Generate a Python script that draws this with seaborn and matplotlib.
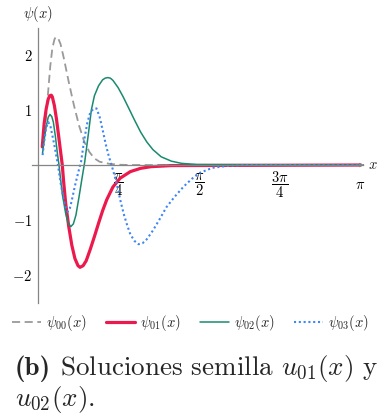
import numpy as np
import pandas as pd
import matplotlib
matplotlib.use("Agg")
import matplotlib.pyplot as plt
import seaborn as sns

# ---------------- data ----------------
PI = np.pi
psi00_x = [0.045, 0.06, 0.08, 0.10, 0.12, 0.14, 0.16, 0.17, 0.18, 0.19, 0.20, 0.22, 0.25, 0.30,
           0.35, 0.40, 0.45, 0.50, 0.55, 0.60, 0.70, 0.80, 0.90, 1.00, PI]
psi00_y = [0.35, 0.55, 0.90, 1.35, 1.80, 2.12, 2.28, 2.32, 2.33, 2.32, 2.29, 2.20, 1.96, 1.51,
           1.09, 0.72, 0.43, 0.24, 0.12, 0.06, 0.02, 0.005, 0.0, 0.0, 0.0]

psi01_x = [0.042, 0.06, 0.08, 0.10, 0.115, 0.13, 0.14, 0.16, 0.18, 0.20, 0.22, 0.237, 0.25,
           0.27, 0.30, 0.33, 0.36, 0.39, 0.41, 0.44, 0.47, 0.51, 0.55, 0.59, 0.63,
           0.67, 0.73, 0.80, 0.90, 1.00, 1.10, 1.30, PI]
psi01_y = [0.33, 0.75, 1.02, 1.20, 1.26, 1.27, 1.24, 1.08, 0.84, 0.55, 0.25, 0.0, -0.30,
           -0.70, -1.12, -1.46, -1.70, -1.83, -1.86, -1.83, -1.74, -1.53, -1.30, -1.06, -0.83,
           -0.63, -0.40, -0.24, -0.12, -0.06, -0.03, -0.01, 0.0]

psi02_x = [0.045, 0.06, 0.08, 0.10, 0.117, 0.135, 0.15, 0.17, 0.19, 0.205, 0.22, 0.24,
           0.27, 0.295, 0.32, 0.345, 0.37, 0.40, 0.43, 0.455, 0.49, 0.52, 0.55, 0.59,
           0.63, 0.655, 0.68, 0.705, 0.73, 0.78, 0.83, 0.88, 0.94, 1.00, 1.06, 1.12, 1.20, 1.30,
           1.40, 1.55, PI]
psi02_y = [0.22, 0.45, 0.70, 0.87, 0.92, 0.88, 0.78, 0.52, 0.20, 0.0, -0.25, -0.56,
           -0.88, -1.06, -1.12, -1.07, -0.91, -0.58, -0.23, 0.05, 0.55, 1.00, 1.26, 1.44,
           1.55, 1.58, 1.59, 1.58, 1.54, 1.41, 1.24, 1.05, 0.82, 0.60, 0.42, 0.28, 0.15, 0.07,
           0.03, 0.01, 0.0]

psi03_x = [0.045, 0.06, 0.08, 0.10, 0.12, 0.14, 0.16, 0.18, 0.195, 0.22, 0.25, 0.27,
           0.29, 0.31, 0.33, 0.36, 0.39, 0.42, 0.45, 0.48, 0.51, 0.54, 0.57, 0.60,
           0.63, 0.66, 0.69, 0.72, 0.75, 0.78, 0.81, 0.84, 0.87, 0.90, 0.94, 0.98,
           1.02, 1.06, 1.12, 1.19, 1.25, 1.33, 1.42, 1.50, 1.58, 1.70, 1.85, 2.00, PI]
psi03_y = [0.18, 0.42, 0.68, 0.78, 0.72, 0.54, 0.36, 0.15, 0.0, -0.32, -0.62, -0.77,
           -0.85, -0.79, -0.64, -0.38, -0.15, 0.06, 0.45, 0.76, 0.96, 1.02, 1.03, 0.88,
           0.64, 0.38, 0.16, -0.02, -0.22, -0.45, -0.70, -0.92, -1.10, -1.26, -1.38, -1.44,
           -1.42, -1.35, -1.19, -0.97, -0.77, -0.58, -0.39, -0.25, -0.14, -0.05, -0.015, 0.0, 0.0]

labels = [r"$\psi_{00}(x)$", r"$\psi_{01}(x)$", r"$\psi_{02}(x)$", r"$\psi_{03}(x)$"]
xtick_vals = [PI / 4, PI / 2, 3 * PI / 4, PI]
xtick_labels = [r"$\dfrac{\pi}{4}$", r"$\dfrac{\pi}{2}$", r"$\dfrac{3\pi}{4}$", r"$\pi$"]
ytick_vals = [-2, -1, 1, 2]
ytick_labels = [r"$-2$", r"$-1$", r"$1$", r"$2$"]
caption_tag = "(b)"
caption_line1 = r"Soluciones semilla $u_{01}(x)$ y"
caption_line2 = r"$u_{02}(x)$."

# ---------------- style ----------------
sns.set_style("white")
plt.rcParams["font.family"] = ["cmr10", "DejaVu Serif"]
plt.rcParams["mathtext.fontset"] = "cm"
plt.rcParams["axes.formatter.use_mathtext"] = True

colors = ["#9a9a9a", "#ec1a4c", "#1a8a6e", "#3f86f2"]
widths = [1.3, 2.3, 1.1, 1.5]
styles = [(0, (4.5, 2.5)), "-", "-", (0, (1, 1.3))]

fig = plt.figure(figsize=(3.85, 4.16), dpi=100)
ax = fig.add_axes([0.0826, 0.2728, 0.859, 0.661])

series = [(psi00_x, psi00_y), (psi01_x, psi01_y), (psi02_x, psi02_y), (psi03_x, psi03_y)]
for (xs, ys), lab, c, lw, ls in zip(series, labels, colors, widths, styles):
    df = pd.DataFrame({"x": xs, "y": ys})
    sns.lineplot(data=df, x="x", y="y", ax=ax, color=c, lw=lw, linestyle=ls,
                 label=lab, sort=False, estimator=None)

handles, labs = ax.get_legend_handles_labels()
if ax.get_legend() is not None:
    ax.get_legend().remove()

ax.set_xlim(-0.06, PI + 0.02)
ax.set_ylim(-2.5, 2.5)
ax.set_xlabel("")
ax.set_ylabel("")

axis_col = "#858585"
for s in ["top", "right"]:
    ax.spines[s].set_visible(False)
for s in ["left", "bottom"]:
    ax.spines[s].set_position(("data", 0))
    ax.spines[s].set_color(axis_col)
    ax.spines[s].set_linewidth(0.9)

ax.set_xticks(xtick_vals)
ax.set_xticklabels(xtick_labels, fontsize=10.5)
ax.set_yticks(ytick_vals)
ax.set_yticklabels(ytick_labels, fontsize=10.5)
for lbl in ax.get_xticklabels():
    lbl.set_va("center")
ax.tick_params(axis="x", direction="inout", length=4, width=0.7, color=axis_col,
               labelcolor="black", pad=12.5)
ax.tick_params(axis="y", direction="inout", length=4, width=0.7, color=axis_col,
               labelcolor="black", pad=2)

ax.annotate("", xy=(PI + 0.035, 0), xytext=(PI, 0),
            arrowprops=dict(arrowstyle="-|>", color=axis_col, lw=0.8, mutation_scale=6),
            annotation_clip=False)
ax.text(3.265, 0, r"$x$", ha="center", va="center", fontsize=10.5, clip_on=False)
ax.text(0, 2.75, r"$\psi(x)$", ha="center", va="center", fontsize=10.5, clip_on=False)

fig.legend(handles, labs, loc="center", bbox_to_anchor=(0.495, 1 - 323 / 416), ncol=4,
           frameon=False, fontsize=10.5, handlelength=2.0, handletextpad=0.35,
           columnspacing=1.3, borderpad=0, borderaxespad=0)

cap_fs = 19.5
W, H = 385.0, 416.0
t_tag = fig.text(15 / W, 1 - 375 / H, caption_tag, fontsize=cap_fs, family="cmb10",
                 ha="left", va="baseline")
fig.canvas.draw()
bb = t_tag.get_window_extent(renderer=fig.canvas.get_renderer())
space_px = 0.33 * cap_fs * 100 / 72
fig.text((bb.x1 + space_px) / W, 1 - 375 / H, caption_line1, fontsize=cap_fs,
         ha="left", va="baseline")
fig.text(15 / W, 1 - 406 / H, caption_line2, fontsize=cap_fs, ha="left", va="baseline")

fig.savefig("out.png", dpi=100)
